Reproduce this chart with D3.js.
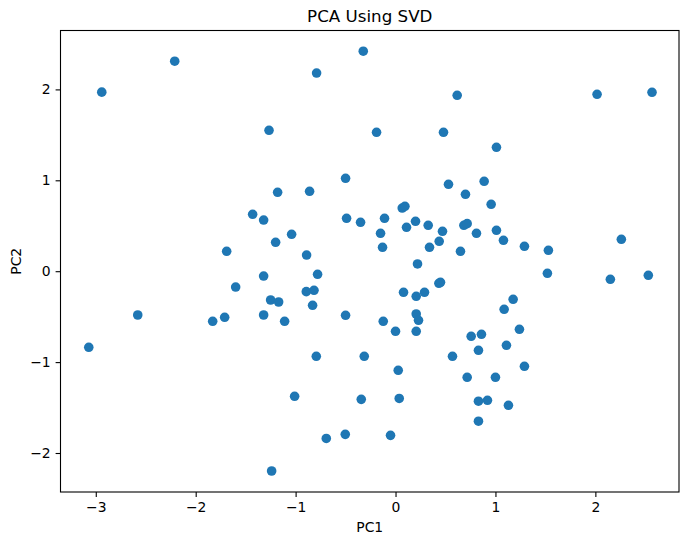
<!DOCTYPE html>
<html>
<head>
<meta charset="utf-8">
<style>
  body { margin: 0; background: #fff; }
  svg text { font-family: "DejaVu Sans", sans-serif; }
</style>
</head>
<body>
<div id="chart"></div>
<script src="https://cdn.jsdelivr.net/npm/d3@7/dist/d3.min.js"></script>
<script>
// points
const pc1 = [
  -2.94, -2.21, -1.266, -1.43, -1.32, -1.69, -0.323, -0.79, 0.617, -0.19,
  0.48, -0.50, 0.53, -1.18, -0.86, 0.70, 0.067, 0.094, -0.49, -0.35,
  -0.11, 0.20, 0.11, 0.327, 0.47, 0.684, 0.717, 0.81, -1.20, -1.04,
  -0.15, -0.13, 0.34, 0.437, 0.65, -0.89, 0.22, 2.017, 2.567, 1.01,
  0.887, 0.957, 1.01, 1.08, 1.29, 1.53, 2.26, -1.32, -1.60, -1.25,
  -2.58, -1.83, -1.71, -1.32, -3.07, -1.24, -0.78, -0.893, -0.816, -1.17,
  -0.83, -1.11, -0.50, 0.08, 0.207, 0.29, 0.434, 0.45, 0.207, 0.23,
  -0.123, 0.0, 0.207, 0.757, -0.793, -0.313, 0.57, 0.027, 0.717, -1.01,
  -0.343, 0.037, -0.693, -0.503, -0.05, 1.52, 2.15, 2.53, 1.177, 1.087,
  0.86, 1.24, 0.83, 1.11, 1.29, 1.0, 0.83, 0.92, 1.13, 0.83
];
const pc2 = [
  1.97, 2.31, 1.55, 0.626, 0.563, 0.219, 2.42, 2.18, 1.935, 1.528,
  1.528, 1.022, 0.956, 0.868, 0.879, 0.846, 0.695, 0.714, 0.582, 0.538,
  0.582, 0.549, 0.483, 0.505, 0.439, 0.505, 0.523, 0.417, 0.318, 0.406,
  0.417, 0.263, 0.263, 0.329, 0.219, 0.178, 0.08, 1.946, 1.968, 1.363,
  0.989, 0.736, 0.45, 0.34, 0.274, 0.23, 0.351, -0.053, -0.174, -0.317,
  -0.482, -0.551, -0.507, -0.482, -0.837, -2.198, -0.034, -0.225, -0.21, -0.339,
  -0.375, -0.551, -0.485, -0.232, -0.276, -0.232, -0.133, -0.122, -0.471, -0.54,
  -0.551, -0.661, -0.661, -0.716, -0.936, -0.936, -0.936, -1.09, -1.167, -1.376,
  -1.41, -1.40, -1.84, -1.795, -1.806, -0.023, -0.089, -0.045, -0.309, -0.419,
  -0.694, -0.639, -0.87, -0.815, -1.046, -1.167, -1.43, -1.42, -1.475, -1.65
];
const xTicks = [-3, -2, -1, 0, 1, 2];
const yTicks = [-2, -1, 0, 1, 2];

const width = 689, height = 545;
const margin = { left: 60.5, right: 10, top: 30.5, bottom: 53 };

const x = d3.scaleLinear()
  .domain([-3.353, 2.837])
  .range([margin.left, width - margin.right]);
const y = d3.scaleLinear()
  .domain([-2.429, 2.648])
  .range([height - margin.bottom, margin.top]);

const svg = d3.select("#chart").append("svg")
  .attr("width", width)
  .attr("height", height);

const fmt = d3.format("d");

// points
svg.append("g")
  .selectAll("circle")
  .data(pc1.map((v, i) => [v, pc2[i]]))
  .join("circle")
  .attr("cx", d => x(d[0]))
  .attr("cy", d => y(d[1]))
  .attr("r", 4.8)
  .attr("fill", "#1f77b4");

// axes
const xAxis = svg.append("g")
  .attr("transform", `translate(0,${height - margin.bottom})`)
  .call(d3.axisBottom(x).tickValues(xTicks).tickFormat(fmt).tickSizeOuter(0).tickSize(4.9).tickPadding(4.9));
const yAxis = svg.append("g")
  .attr("transform", `translate(${margin.left},0)`)
  .call(d3.axisLeft(y).tickValues(yTicks).tickFormat(fmt).tickSizeOuter(0).tickSize(4.9).tickPadding(4.9));

[xAxis, yAxis].forEach(a => {
  a.select(".domain").remove();
  a.selectAll(".tick line").attr("stroke", "#000").attr("stroke-width", 1.1);
  a.selectAll(".tick text").attr("fill", "#000").style("font-size", "13.9px");
});

// frame
svg.append("rect")
  .attr("x", margin.left)
  .attr("y", margin.top)
  .attr("width", width - margin.right - margin.left)
  .attr("height", height - margin.bottom - margin.top)
  .attr("fill", "none")
  .attr("stroke", "#000")
  .attr("stroke-width", 1.1);

// labels
svg.append("text")
  .attr("x", (margin.left + width - margin.right) / 2)
  .attr("y", 22)
  .attr("text-anchor", "middle")
  .style("font-size", "16.7px")
  .text("PCA Using SVD");

svg.append("text")
  .attr("x", (margin.left + width - margin.right) / 2)
  .attr("y", 532)
  .attr("text-anchor", "middle")
  .style("font-size", "13.9px")
  .text("PC1");

svg.append("text")
  .attr("transform", `translate(21,${(margin.top + height - margin.bottom) / 2}) rotate(-90)`)
  .attr("text-anchor", "middle")
  .style("font-size", "13.9px")
  .text("PC2");
</script>
</body>
</html>
